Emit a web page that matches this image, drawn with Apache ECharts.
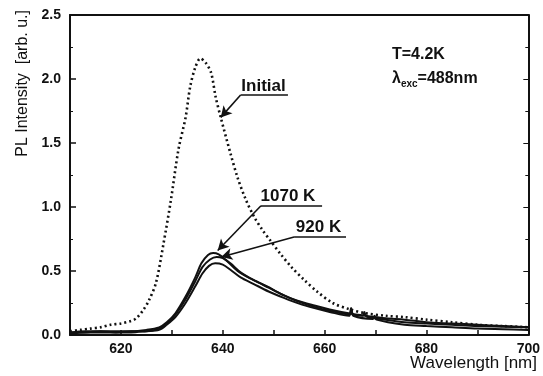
<!DOCTYPE html>
<html>
<head>
<meta charset="utf-8">
<script src="https://cdn.jsdelivr.net/npm/echarts@6/dist/echarts.min.js"></script>
<style>
  html, body { margin: 0; padding: 0; background: #fff; }
  #chart { width: 543px; height: 376px; }
</style>
</head>
<body>
<div id="chart"></div>
<script>
// wavelength (nm), PL intensity (arb. u.)
const initialPts = [
  [610, 0.03], [612, 0.04], [614, 0.05], [616, 0.06], [618, 0.08], [620, 0.09],
  [622, 0.11], [623, 0.13], [624.3, 0.19], [625.5, 0.27], [626.9, 0.41], [628.3, 0.70],
  [629.8, 1.05], [631.3, 1.45], [632.7, 1.70], [633.6, 1.94], [634.6, 2.09], [635.6, 2.16],
  [636.6, 2.13], [637.7, 2.05], [638.6, 1.86], [639.6, 1.70], [641.5, 1.42], [642.9, 1.23],
  [644.5, 1.06], [646.2, 0.92], [647.8, 0.82], [649.3, 0.74], [651.4, 0.63], [653.5, 0.53],
  [656, 0.43], [658.5, 0.34], [661.6, 0.25], [665, 0.20], [668, 0.17], [672, 0.15],
  [675.7, 0.14], [680, 0.12], [685, 0.10], [690, 0.08], [695, 0.07], [700, 0.06]
]
const k1070Pts = [
  [610, 0.02], [613, 0.03], [616, 0.03], [619, 0.03], [622, 0.03], [625, 0.04],
  [627.5, 0.06], [629, 0.10], [630.7, 0.17], [632.7, 0.30], [634.6, 0.45], [635.8, 0.56],
  [637.1, 0.625], [638.1, 0.64], [639.2, 0.63], [640.5, 0.59], [642.9, 0.50], [645.5, 0.44],
  [648.7, 0.38], [651.5, 0.32], [654.5, 0.27], [658, 0.23], [661, 0.20], [664.7, 0.17],
  [668, 0.15], [672, 0.13], [675.7, 0.12], [680, 0.10], [685, 0.09], [690, 0.08],
  [695, 0.07], [700, 0.06]
]
const k920Pts = [
  [610, 0.02], [613, 0.02], [616, 0.03], [619, 0.02], [622, 0.03], [625, 0.03],
  [627.5, 0.05], [629, 0.09], [630.7, 0.16], [632.7, 0.28], [634.6, 0.42], [636, 0.53],
  [637.5, 0.59], [638.8, 0.61], [640, 0.60], [641.5, 0.56], [643.5, 0.49], [646, 0.43],
  [649, 0.37], [652, 0.31], [655, 0.26], [658, 0.22], [661, 0.19], [664.8, 0.16],
  [665.2, 0.21], [665.6, 0.16], [667.5, 0.15], [667.8, 0.18], [668.2, 0.145], [672, 0.12],
  [675.7, 0.10], [680, 0.09], [685, 0.08], [690, 0.07], [695, 0.065], [700, 0.06]
]
const thirdPts = [
  [610, 0.01], [613, 0.02], [616, 0.02], [619, 0.02], [622, 0.02], [625, 0.03],
  [627.5, 0.04], [629, 0.08], [630.7, 0.14], [632.7, 0.25], [634.6, 0.38], [636, 0.48],
  [637.3, 0.54], [638.5, 0.56], [640, 0.55], [641.5, 0.51], [643.5, 0.45], [646, 0.40],
  [649, 0.34], [652, 0.29], [655, 0.245], [658, 0.21], [661, 0.18], [664.8, 0.15],
  [665.2, 0.19], [665.6, 0.15], [669.5, 0.125], [669.8, 0.15], [670.2, 0.12], [675.7, 0.08],
  [680, 0.07], [685, 0.06], [690, 0.05], [695, 0.045], [700, 0.04]
]
const xTicks = [620, 640, 660, 680, 700]
const yTicks = [0.0, 0.5, 1.0, 1.5, 2.0, 2.5]

// annotation anchors in data space: text centre, underline start/end, arrow tip
const notes = [
  { text: 'Initial', center: [648.0, 1.945], line: [[643.5, 1.875], [652.8, 1.875]], tip: [639.6, 1.70] },
  { text: '1070 K', center: [652.8, 1.08], line: [[647.5, 1.01], [659.5, 1.01]], tip: [639.0, 0.66] },
  { text: '920 K', center: [658.8, 0.84], line: [[654.0, 0.765], [664.2, 0.765]], tip: [639.7, 0.61] }
]

const chart = echarts.init(document.getElementById('chart'))

const lineStyleDark = { color: '#111', width: 2 }
const bold = { fontFamily: 'Liberation Sans, Arial', fontWeight: 'bold', color: '#111' }

const markLineData = []
notes.forEach(n => {
  markLineData.push([{ coord: n.line[0], symbol: 'none' }, { coord: n.line[1], symbol: 'none' }])
  markLineData.push([{ coord: n.line[0], symbol: 'none' }, { coord: n.tip, symbol: 'arrow' }])
})

const option = {
  animation: false,
  backgroundColor: '#fff',
  grid: { left: 70, right: 7, top: 15, bottom: 41 },
  xAxis: [
    {
      type: 'value',
      min: 610,
      max: 700,
      interval: 10,
      axisLine: { lineStyle: { color: '#111', width: 2 } },
      axisTick: { inside: true, length: 5, lineStyle: { color: '#111', width: 1.5 } },
      splitLine: { show: false },
      axisLabel: {
        ...bold,
        fontSize: 14,
        margin: 7,
        formatter: v => (xTicks.includes(v) ? String(v) : '')
      }
    },
    {
      type: 'value',
      position: 'top',
      min: 610,
      max: 700,
      axisLine: { onZero: false, lineStyle: { color: '#111', width: 2 } },
      axisTick: { show: false },
      axisLabel: { show: false },
      splitLine: { show: false }
    }
  ],
  yAxis: [
    {
      type: 'value',
      min: 0,
      max: 2.5,
      interval: 0.5,
      axisLine: { show: true, lineStyle: { color: '#111', width: 2 } },
      axisTick: { show: true, inside: true, length: 6, lineStyle: { color: '#111', width: 1.5 } },
      minorTick: { show: true, splitNumber: 2, length: 3, lineStyle: { color: '#111' } },
      splitLine: { show: false },
      axisLabel: {
        ...bold,
        fontSize: 14,
        margin: 9,
        formatter: v => yTicks.find(t => Math.abs(t - v) < 1e-6).toFixed(1)
      }
    },
    {
      type: 'value',
      position: 'right',
      min: 0,
      max: 2.5,
      interval: 0.5,
      axisLine: { show: true, onZero: false, lineStyle: { color: '#111', width: 2 } },
      axisTick: { show: true, inside: true, length: 5, lineStyle: { color: '#111' } },
      minorTick: { show: true, splitNumber: 2, length: 3, lineStyle: { color: '#111' } },
      axisLabel: { show: false },
      splitLine: { show: false }
    }
  ],
  series: [
    {
      name: 'Initial',
      type: 'line',
      data: initialPts,
      showSymbol: false,
      smooth: 0.3,
      lineStyle: { color: '#111', width: 2.6, type: [2, 3] },
      markLine: {
        silent: true,
        symbolSize: [9, 11],
        lineStyle: { color: '#111', width: 1.6, type: 'solid' },
        label: { show: false },
        data: markLineData
      },
      markPoint: {
        silent: true,
        symbol: 'circle',
        symbolSize: 0,
        label: { show: true, position: 'inside', ...bold, fontSize: 17 },
        data: notes.map(n => ({ coord: n.center, label: { formatter: n.text } }))
      }
    },
    {
      name: '1070 K',
      type: 'line',
      data: k1070Pts,
      showSymbol: false,
      smooth: 0.3,
      lineStyle: lineStyleDark
    },
    {
      name: '920 K',
      type: 'line',
      data: k920Pts,
      showSymbol: false,
      smooth: 0.3,
      lineStyle: lineStyleDark
    },
    {
      name: 'third',
      type: 'line',
      data: thirdPts,
      showSymbol: false,
      smooth: 0.3,
      lineStyle: lineStyleDark
    }
  ],
  graphic: [
    {
      type: 'text',
      left: 15,
      top: 10,
      rotation: Math.PI / 2,
      style: {
        text: 'PL Intensity  [arb. u.]',
        font: '16px "Liberation Sans", Arial',
        fill: '#111'
      }
    },
    {
      type: 'text',
      right: 6,
      top: 355,
      style: {
        text: 'Wavelength [nm]',
        font: '17px "Liberation Sans", Arial',
        fill: '#111'
      }
    },
    {
      type: 'text',
      left: 392,
      top: 47,
      style: {
        text: 'T=4.2K',
        font: 'bold 16px "Liberation Sans", Arial',
        fill: '#111'
      }
    },
    {
      type: 'text',
      left: 392,
      top: 71,
      style: {
        text: '{a|λ}{s|exc}{a|=488nm}',
        rich: {
          a: { font: 'bold 16px "Liberation Sans", Arial', fill: '#111' },
          s: { font: 'bold 10px "Liberation Sans", Arial', fill: '#111', padding: [10, 0, 0, 0] }
        }
      }
    }
  ]
}

chart.setOption(option)
</script>
</body>
</html>
